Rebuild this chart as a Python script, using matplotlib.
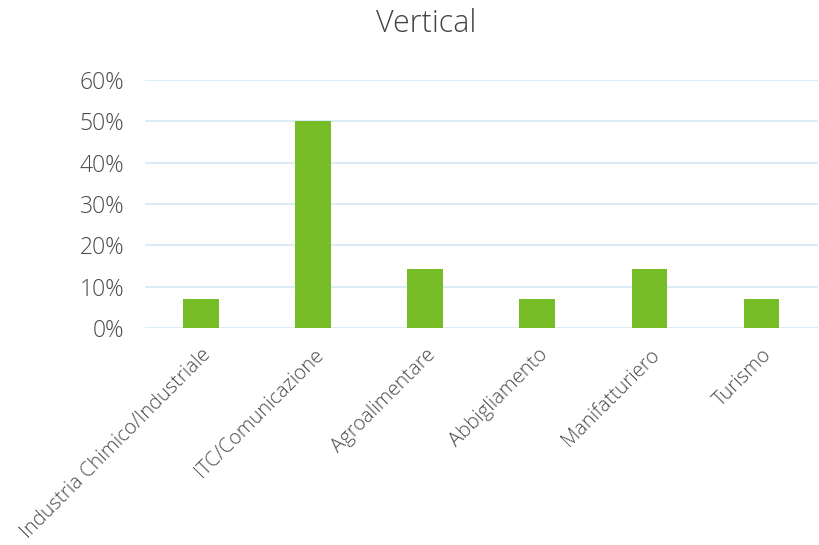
import matplotlib
matplotlib.use("Agg")
import matplotlib.pyplot as plt
from matplotlib.ticker import PercentFormatter

categories = ['Industria Chimico/Industriale', 'ITC/Comunicazione', 'Agroalimentare',
              'Abbigliamento', 'Manifatturiero', 'Turismo']
values = [7.14, 50.0, 14.29, 7.14, 14.29, 7.14]
yticks = [0, 10, 20, 30, 40, 50, 60]

plt.rcParams['font.family'] = ['Open Sans', 'DejaVu Sans']
plt.rcParams['font.weight'] = 'light'
txt_color = '#4a4a4a'

fig = plt.figure(figsize=(8.2, 5.45), dpi=100)
ax = fig.add_axes([0.177, 0.398, 0.82, 0.455])

x = range(len(categories))
ax.bar(x, values, width=0.32, color='#76bc26', zorder=3)

ax.set_ylim(0, 60)
ax.set_xlim(-0.5, len(categories) - 0.5)
ax.set_yticks(yticks)
ax.yaxis.set_major_formatter(PercentFormatter(decimals=0))
ax.grid(axis='y', color='#dcecf6', linewidth=1.5, zorder=0)
for s in ax.spines.values():
    s.set_visible(False)
ax.tick_params(length=0, colors=txt_color, labelsize=16.5)
ax.tick_params(axis='y', pad=15)

ax.set_xticks(list(x))
ax.set_xticklabels(categories, rotation=45, ha='right', rotation_mode='anchor',
                   fontsize=14.5, color=txt_color)
ax.tick_params(axis='x', pad=12)

fig.suptitle('Vertical', x=0.52, y=0.985, fontsize=22, fontweight='light', color='#444444')

fig.savefig('out.png', dpi=100)
